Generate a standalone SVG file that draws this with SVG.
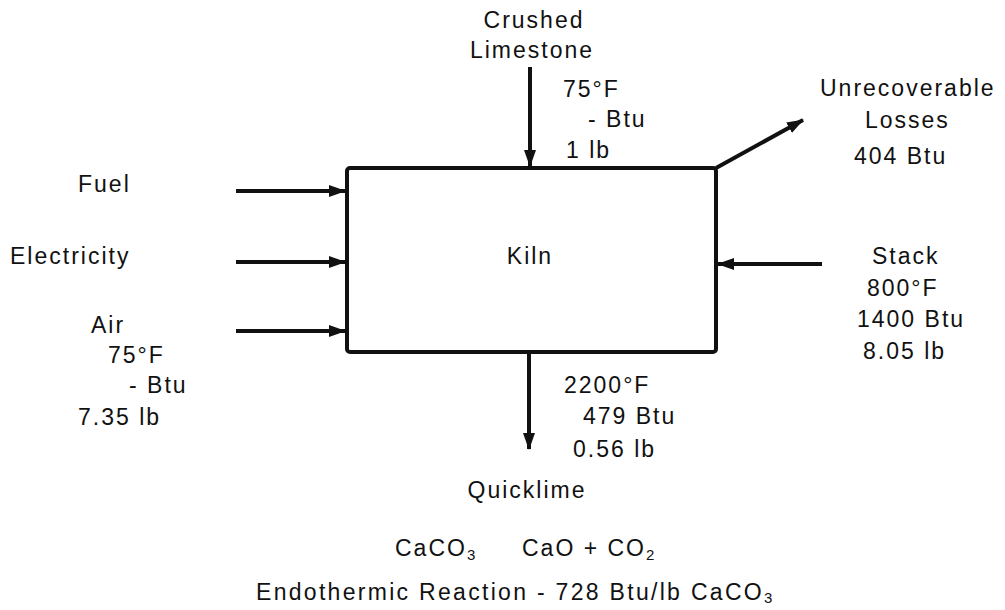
<svg xmlns="http://www.w3.org/2000/svg" width="1005" height="610" viewBox="0 0 1005 610">
<defs>
<style>
text{font-family:"Liberation Sans",Arial,sans-serif;font-size:23px;fill:#111;letter-spacing:2px}
.c{text-anchor:middle}
.sub{font-size:15px}
.ln{stroke:#111;stroke-width:4;fill:none}
</style>
<marker id="ah" markerUnits="userSpaceOnUse" markerWidth="18" markerHeight="14" refX="16" refY="7" orient="auto">
<path d="M0,1 L17,7 L0,13 Z" fill="#111"/>
</marker>
</defs>
<rect width="1005" height="610" fill="#fff"/>
<g id="kiln">
<rect x="347" y="168" width="369" height="184" rx="3" class="ln"/>
<text x="530" y="264" class="c">Kiln</text>
</g>
<g id="connectors">
<line x1="236" y1="191" x2="345" y2="191" class="ln" marker-end="url(#ah)"/>
<line x1="236" y1="262" x2="345" y2="262" class="ln" marker-end="url(#ah)"/>
<line x1="236" y1="331" x2="345" y2="331" class="ln" marker-end="url(#ah)"/>
<line x1="822" y1="264" x2="718" y2="264" class="ln" marker-end="url(#ah)"/>
<line x1="530" y1="67" x2="530" y2="166" class="ln" marker-end="url(#ah)"/>
<line x1="529" y1="354" x2="529" y2="449" class="ln" marker-end="url(#ah)"/>
<line x1="716" y1="168" x2="803" y2="120" class="ln" marker-end="url(#ah)"/>
</g>
<g id="limestone">
<text x="534" y="28" class="c">Crushed</text>
<text x="532" y="58" class="c">Limestone</text>
<text x="563" y="97">75°F</text>
<text x="588" y="127">- Btu</text>
<text x="566" y="158">1 lb</text>
</g>
<g id="losses">
<text x="820" y="96">Unrecoverable</text>
<text x="865" y="128">Losses</text>
<text x="854" y="164">404 Btu</text>
</g>
<g id="fuel"><text x="78" y="192">Fuel</text></g>
<g id="electricity"><text x="10" y="264">Electricity</text></g>
<g id="air">
<text x="91" y="333">Air</text>
<text x="108" y="363">75°F</text>
<text x="129" y="393">- Btu</text>
<text x="78" y="425">7.35 lb</text>
</g>
<g id="stack">
<text x="872" y="264">Stack</text>
<text x="867" y="296">800°F</text>
<text x="857" y="327">1400 Btu</text>
<text x="863" y="359">8.05 lb</text>
</g>
<g id="quicklime">
<text x="564" y="393">2200°F</text>
<text x="583" y="424">479 Btu</text>
<text x="573" y="457">0.56 lb</text>
<text x="527" y="498" class="c">Quicklime</text>
</g>
<g id="reaction">
<text x="395" y="556">CaCO<tspan class="sub" dy="4">3</tspan></text>
<text x="522" y="556">CaO + CO<tspan class="sub" dy="4">2</tspan></text>
<text x="256" y="600" style="letter-spacing:2.3px">Endothermic Reaction - 728 Btu/lb CaCO<tspan class="sub" dy="3">3</tspan></text>
</g>
</svg>
